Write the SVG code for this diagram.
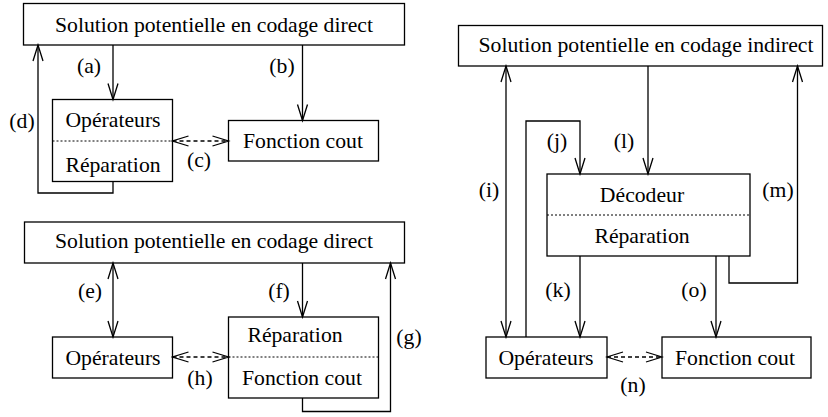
<svg xmlns="http://www.w3.org/2000/svg" width="828" height="417" viewBox="0 0 828 417">
<style>
  text { font-family: "Liberation Serif", "Times New Roman", serif; font-size: 21.7px; fill: #000; text-anchor: middle; }
  .box { fill: #fff; stroke: #000; stroke-width: 1.3; }
  .sep { stroke: #000; stroke-width: 1; stroke-dasharray: 2 2; fill: none; }
  .c { fill: none; stroke: #000; stroke-width: 1.3; }
  .arr { marker-end: url(#v); }
  .dbl { marker-start: url(#v); marker-end: url(#v); }
  .dash { stroke-dasharray: 4 3; }
</style>
<defs>
  <marker id="v" viewBox="-18 -7 20 14" refX="0" refY="0" markerWidth="20" markerHeight="14" markerUnits="userSpaceOnUse" orient="auto-start-reverse">
    <path d="M-16,-5 L0,0 L-16,5" fill="none" stroke="#000" stroke-width="1.3"/>
  </marker>
</defs>
<rect width="828" height="417" fill="#fff"/>

<!-- Panel 1 -->
<g id="p1-solution">
  <rect class="box" x="23.5" y="3.5" width="381" height="41.5"/>
  <text x="214" y="31.5">Solution potentielle en codage direct</text>
</g>
<g id="p1-operateurs-reparation">
  <rect class="box" x="52.5" y="99.5" width="120" height="82"/>
  <line class="sep" x1="52.5" y1="141" x2="172.5" y2="141"/>
  <text x="113" y="127">Opérateurs</text>
  <text x="113" y="172">Réparation</text>
</g>
<g id="p1-fonction-cout">
  <rect class="box" x="228.5" y="120.5" width="150" height="40.5"/>
  <text x="303" y="148">Fonction cout</text>
</g>

<!-- Panel 2 -->
<g id="p2-solution">
  <rect class="box" x="24.5" y="222" width="380" height="41"/>
  <text x="214" y="248">Solution potentielle en codage direct</text>
</g>
<g id="p2-operateurs">
  <rect class="box" x="52.5" y="337" width="120" height="41"/>
  <text x="113" y="365">Opérateurs</text>
</g>
<g id="p2-reparation-fonction-cout">
  <rect class="box" x="228.5" y="317" width="150" height="81"/>
  <line class="sep" x1="228.5" y1="357" x2="378.5" y2="357"/>
  <text x="295" y="342">Réparation</text>
  <text x="302" y="385">Fonction cout</text>
</g>

<!-- Panel 3 -->
<g id="p3-solution">
  <rect class="box" x="458.5" y="25.5" width="364" height="40.5"/>
  <text x="646" y="51.5">Solution potentielle en codage indirect</text>
</g>
<g id="p3-decodeur-reparation">
  <rect class="box" x="547" y="174" width="203" height="82"/>
  <line class="sep" x1="547" y1="215" x2="750" y2="215"/>
  <text x="642" y="202">Décodeur</text>
  <text x="642" y="243">Réparation</text>
</g>
<g id="p3-operateurs">
  <rect class="box" x="486" y="337" width="121" height="41"/>
  <text x="546" y="365">Opérateurs</text>
</g>
<g id="p3-fonction-cout">
  <rect class="box" x="662" y="337" width="149" height="41"/>
  <text x="735" y="365">Fonction cout</text>
</g>

<!-- Connectors -->
<g id="connectors">
  <!-- panel 1 -->
  <line class="c arr" x1="113" y1="45" x2="113" y2="99.5"/>
  <line class="c arr" x1="302.5" y1="45" x2="302.5" y2="120.5"/>
  <line class="c dbl dash" x1="172.5" y1="141" x2="228.5" y2="141"/>
  <polyline class="c arr" points="113,181.5 113,193 38,193 38,45"/>
  <!-- panel 2 -->
  <line class="c dbl" x1="113" y1="263" x2="113" y2="337"/>
  <line class="c arr" x1="302.5" y1="263" x2="302.5" y2="317"/>
  <polyline class="c arr" points="302.5,398 302.5,411.5 390.5,411.5 390.5,263"/>
  <line class="c dbl dash" x1="172.5" y1="357" x2="228.5" y2="357"/>
  <!-- panel 3 -->
  <line class="c dbl" x1="506" y1="66" x2="506" y2="337"/>
  <polyline class="c arr" points="526,337 526,121 580,121 580,174"/>
  <line class="c arr" x1="648" y1="66" x2="648" y2="174"/>
  <polyline class="c arr" points="729,256 729,283 797.5,283 797.5,66"/>
  <line class="c arr" x1="580" y1="256" x2="580" y2="337"/>
  <line class="c arr" x1="716" y1="256" x2="716" y2="337"/>
  <line class="c dbl dash" x1="607" y1="357" x2="662" y2="357"/>
</g>

<g id="labels">
  <text x="89" y="73">(a)</text>
  <text x="282" y="73">(b)</text>
  <text x="199" y="167">(c)</text>
  <text x="22" y="128">(d)</text>
  <text x="90" y="298">(e)</text>
  <text x="279" y="298">(f)</text>
  <text x="409" y="344">(g)</text>
  <text x="200" y="385">(h)</text>
  <text x="489" y="197">(i)</text>
  <text x="557" y="148">(j)</text>
  <text x="558" y="297">(k)</text>
  <text x="624" y="148">(l)</text>
  <text x="778" y="197">(m)</text>
  <text x="633" y="392">(n)</text>
  <text x="694" y="297">(o)</text>
</g>
</svg>
